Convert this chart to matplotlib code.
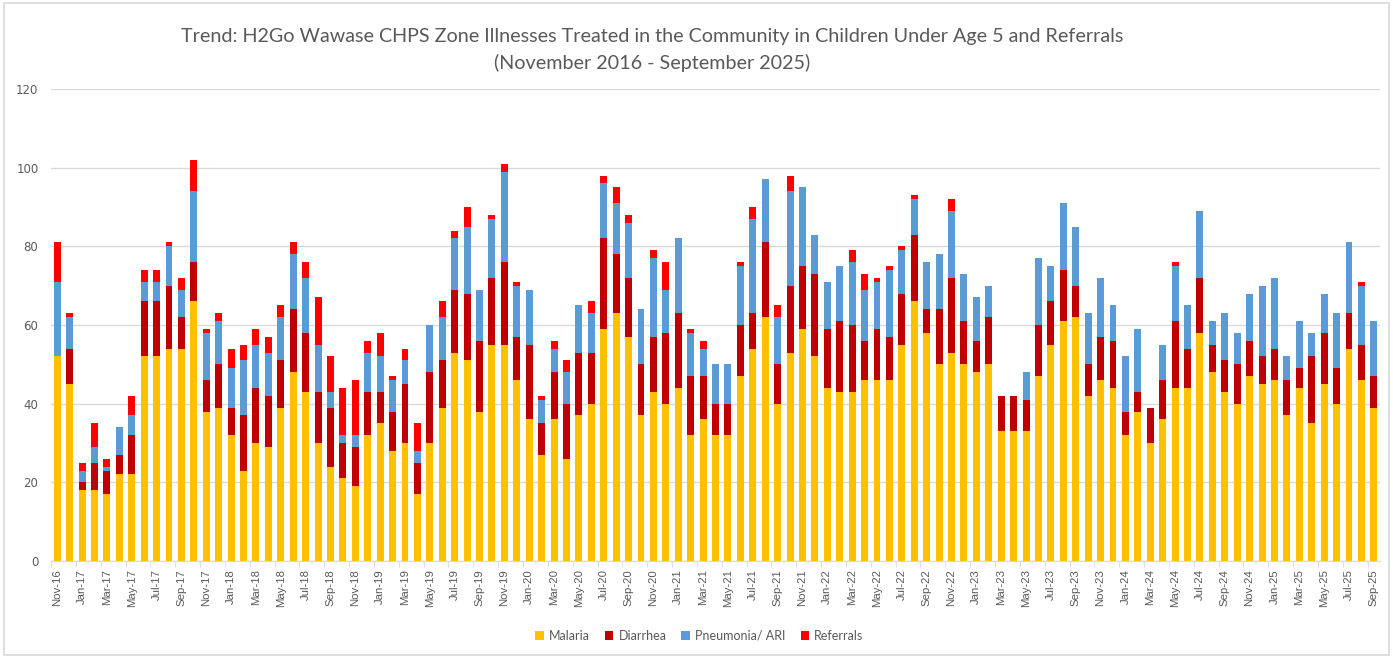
import matplotlib
matplotlib.use("Agg")
import matplotlib.pyplot as plt
import numpy as np
from matplotlib.patches import Rectangle

labels = []
y, m = 2016, 10
for _ in range(107):
    labels.append(f"{['Jan','Feb','Mar','Apr','May','Jun','Jul','Aug','Sep','Oct','Nov','Dec'][m]}-{str(y)[2:]}")
    m += 1
    if m == 12:
        m = 0
        y += 1

malaria = [52,45,18,18,17,22,22,52,52,54,54,66,38,39,32,23,30,29,39,48,43,30,24,21,19,32,35,28,30,17,
           30,39,53,51,38,55,55,46,36,27,36,26,37,40,59,63,57,37,43,40,44,32,36,32,32,47,54,62,40,53,
           59,52,44,43,43,46,46,46,55,66,58,50,53,50,48,50,33,33,33,47,55,61,62,42,46,44,32,38,30,36,
           44,44,58,48,43,40,47,45,46,37,44,35,45,40,54,46,39]
diarrhea = [0,9,2,7,6,5,10,14,14,16,8,10,8,11,7,14,14,13,12,16,15,13,15,9,10,11,8,10,15,8,
            18,12,16,17,18,17,21,11,19,8,12,14,16,13,23,15,15,13,14,18,19,15,11,8,8,13,9,19,10,17,
            16,21,15,18,17,10,13,11,13,17,6,14,19,11,8,12,9,9,8,13,11,13,8,8,11,12,6,5,9,10,
            17,10,14,7,8,10,9,7,8,9,5,17,13,9,9,9,8]
pneumonia = [19,8,3,4,1,7,5,5,5,10,7,18,12,11,10,14,11,11,11,14,14,12,4,2,3,10,9,8,6,3,
             12,11,13,17,13,15,23,13,14,6,6,8,12,10,14,13,14,14,20,11,19,11,7,10,10,15,24,16,12,24,
             20,10,12,14,16,13,12,17,11,9,12,14,17,12,11,8,0,0,7,17,9,17,15,13,15,9,14,16,0,9,
             14,11,17,6,12,8,12,18,18,6,12,6,10,14,18,15,14]
referrals = [10,1,2,6,2,0,5,3,3,1,3,8,1,2,5,4,4,4,3,3,4,12,9,12,14,3,6,1,3,7,
             0,4,2,5,0,1,2,1,0,1,2,3,0,3,2,4,2,0,2,7,0,1,2,0,0,1,3,0,3,4,
             0,0,0,0,3,4,1,1,1,1,0,0,3,0,0,0,0,0,0,0,0,0,0,0,0,0,0,0,0,0,
             1,0,0,0,0,0,0,0,0,0,0,0,0,0,0,1,0]

series = [("Malaria", malaria, "#FFC000"),
          ("Diarrhea", diarrhea, "#C00000"),
          ("Pneumonia/ ARI", pneumonia, "#5B9BD5"),
          ("Referrals", referrals, "#FF0000")]

fig = plt.figure(figsize=(13.93, 6.58), dpi=100)
ax = fig.add_axes([0.0366, 0.1474, 0.9541, 0.7173])

x = np.arange(len(labels))
bottom = np.zeros(len(labels))
handles = []
for name, vals, col in series:
    v = np.array(vals, dtype=float)
    b = ax.bar(x, v, bottom=bottom, width=0.56, color=col, label=name, zorder=3, linewidth=0)
    handles.append(b)
    bottom += v

ax.set_ylim(0, 120)
ax.set_xlim(-0.5, len(labels) - 0.5)
ax.set_yticks(range(0, 121, 20))
ax.yaxis.grid(True, color="#D9D9D9", linewidth=1, zorder=0)
for s in ["left", "right", "top"]:
    ax.spines[s].set_visible(False)
ax.spines["bottom"].set_color("#D9D9D9")
ax.tick_params(axis="y", length=0, labelsize=8.5, labelcolor="#595959", pad=9)

ax.set_xticks(x[::2])
ax.set_xticklabels(labels[::2], rotation=90, fontsize=8.2, color="#595959", family="Liberation Sans")
ax.tick_params(axis="x", length=0, pad=6)
ax.set_xticks(np.arange(-0.5, len(labels), 2), minor=True)
ax.tick_params(axis="x", which="minor", length=4, color="#D9D9D9")

fig.text(0.468, 0.945, "Trend: H2Go Wawase CHPS Zone Illnesses Treated in the Community in Children Under Age 5 and Referrals",
         ha="center", va="center", fontsize=14.2, color="#595959", family="Lato")
fig.text(0.468, 0.905, "(November 2016 - September 2025)",
         ha="center", va="center", fontsize=14.2, color="#595959", family="Lato")

leg = fig.legend(handles=handles, loc="center", bbox_to_anchor=(0.502, 0.034), ncol=4, frameon=False,
                 handlelength=0.7, handleheight=0.7, handletextpad=0.4, columnspacing=1.2,
                 prop={"family": "Lato", "size": 9})
for t in leg.get_texts():
    t.set_color("#595959")

fig.patches.append(Rectangle((0.003, 0.004), 0.994, 0.992, transform=fig.transFigure,
                             fill=False, edgecolor="#D9D9D9", linewidth=1.2))

fig.savefig("out.png", dpi=100)
